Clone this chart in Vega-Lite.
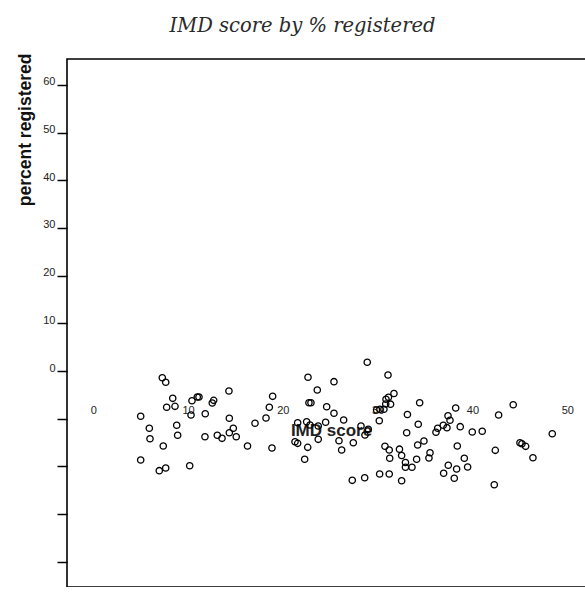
{
  "$schema": "https://vega.github.io/schema/vega-lite/v6.json",
  "width": 523,
  "height": 528,
  "autosize": {"type": "none"},
  "padding": {"left": 67, "top": 59, "right": 0, "bottom": 0},
  "background": "white",
  "title": {
    "text": "IMD score by % registered",
    "font": "DejaVu Serif",
    "fontStyle": "italic",
    "fontWeight": "normal",
    "fontSize": 19.5,
    "color": "#2a2a2a",
    "anchor": "middle",
    "dx": -26,
    "baseline": "alphabetic",
    "offset": 2
  },
  "config": {
    "view": {"stroke": "black", "strokeWidth": 1.6},
    "axis": {"grid": false, "domain": false, "labelFont": "Liberation Sans", "titleFont": "Liberation Sans"}
  },
  "data": {
    "values": [
      {"imd": 7.28, "pct": -1.41}, {"imd": 7.64, "pct": -2.37}, {"imd": 8.38, "pct": -5.73}, {"imd": 7.74, "pct": -7.61},
      {"imd": 8.62, "pct": -7.41}, {"imd": 10.41, "pct": -6.23}, {"imd": 10.97, "pct": -5.45}, {"imd": 11.15, "pct": -5.45},
      {"imd": 10.31, "pct": -9.23}, {"imd": 11.81, "pct": -8.96}, {"imd": 12.70, "pct": -6.15}, {"imd": 12.55, "pct": -6.71},
      {"imd": 14.31, "pct": -4.20}, {"imd": 5.00, "pct": -9.50}, {"imd": 5.91, "pct": -12.02}, {"imd": 5.98, "pct": -14.20},
      {"imd": 7.38, "pct": -15.73}, {"imd": 8.80, "pct": -11.39}, {"imd": 8.90, "pct": -13.49}, {"imd": 5.00, "pct": -18.67},
      {"imd": 6.96, "pct": -20.91}, {"imd": 7.64, "pct": -20.35}, {"imd": 10.17, "pct": -19.87}, {"imd": 11.78, "pct": -13.78},
      {"imd": 13.08, "pct": -13.49}, {"imd": 13.58, "pct": -14.12}, {"imd": 14.35, "pct": -9.92}, {"imd": 14.35, "pct": -12.94},
      {"imd": 14.77, "pct": -12.02}, {"imd": 15.08, "pct": -13.78}, {"imd": 16.27, "pct": -15.73}, {"imd": 17.06, "pct": -10.97},
      {"imd": 18.22, "pct": -9.86}, {"imd": 18.57, "pct": -7.61}, {"imd": 18.92, "pct": -5.31}, {"imd": 18.85, "pct": -16.15},
      {"imd": 22.65, "pct": -1.32}, {"imd": 25.39, "pct": -2.24}, {"imd": 23.63, "pct": -3.99}, {"imd": 28.90, "pct": 1.83},
      {"imd": 31.09, "pct": -0.84}, {"imd": 22.75, "pct": -6.65}, {"imd": 22.96, "pct": -6.65}, {"imd": 24.62, "pct": -7.49},
      {"imd": 25.39, "pct": -8.87}, {"imd": 26.41, "pct": -10.28}, {"imd": 21.56, "pct": -10.85}, {"imd": 22.51, "pct": -10.64},
      {"imd": 22.86, "pct": -11.33}, {"imd": 23.73, "pct": -11.54}, {"imd": 24.51, "pct": -10.76}, {"imd": 28.24, "pct": -11.54},
      {"imd": 29.01, "pct": -12.23}, {"imd": 28.66, "pct": -13.43}, {"imd": 30.17, "pct": -10.43}, {"imd": 21.28, "pct": -14.83},
      {"imd": 21.56, "pct": -15.17}, {"imd": 22.62, "pct": -16.01}, {"imd": 23.73, "pct": -14.33}, {"imd": 25.92, "pct": -14.62},
      {"imd": 26.20, "pct": -16.57}, {"imd": 27.43, "pct": -15.04}, {"imd": 22.30, "pct": -18.52}, {"imd": 30.77, "pct": -15.78},
      {"imd": 31.22, "pct": -16.57}, {"imd": 32.30, "pct": -16.40}, {"imd": 32.53, "pct": -17.73}, {"imd": 31.27, "pct": -18.31},
      {"imd": 32.93, "pct": -19.19}, {"imd": 32.93, "pct": -20.20}, {"imd": 27.32, "pct": -22.93}, {"imd": 28.63, "pct": -22.38},
      {"imd": 30.21, "pct": -21.61}, {"imd": 31.22, "pct": -21.61}, {"imd": 32.53, "pct": -23.01}, {"imd": 31.72, "pct": -4.72},
      {"imd": 31.14, "pct": -5.52}, {"imd": 30.88, "pct": -5.92}, {"imd": 30.85, "pct": -6.92}, {"imd": 31.36, "pct": -6.96},
      {"imd": 30.24, "pct": -8.03}, {"imd": 29.89, "pct": -8.18}, {"imd": 30.66, "pct": -8.03}, {"imd": 33.14, "pct": -9.13},
      {"imd": 34.43, "pct": -6.65}, {"imd": 34.28, "pct": -11.18}, {"imd": 33.06, "pct": -12.94}, {"imd": 38.23, "pct": -7.76},
      {"imd": 37.42, "pct": -9.38}, {"imd": 37.63, "pct": -10.34}, {"imd": 36.92, "pct": -11.39}, {"imd": 37.31, "pct": -11.89},
      {"imd": 36.33, "pct": -12.02}, {"imd": 36.15, "pct": -12.86}, {"imd": 38.71, "pct": -11.68}, {"imd": 39.98, "pct": -12.80},
      {"imd": 41.03, "pct": -12.65}, {"imd": 42.76, "pct": -9.23}, {"imd": 44.30, "pct": -7.07}, {"imd": 48.42, "pct": -13.15},
      {"imd": 34.88, "pct": -14.68}, {"imd": 34.22, "pct": -15.52}, {"imd": 33.62, "pct": -20.20}, {"imd": 34.11, "pct": -18.52},
      {"imd": 35.52, "pct": -17.14}, {"imd": 35.41, "pct": -18.25}, {"imd": 38.40, "pct": -15.73}, {"imd": 39.14, "pct": -18.31},
      {"imd": 39.49, "pct": -20.14}, {"imd": 37.45, "pct": -19.78}, {"imd": 36.96, "pct": -21.46}, {"imd": 38.33, "pct": -20.56},
      {"imd": 38.08, "pct": -22.51}, {"imd": 42.41, "pct": -16.64}, {"imd": 45.01, "pct": -15.04}, {"imd": 45.22, "pct": -15.25},
      {"imd": 45.61, "pct": -15.80}, {"imd": 46.38, "pct": -18.19}, {"imd": 42.30, "pct": -23.85}
    ]
  },
  "mark": {"type": "point", "shape": "circle", "filled": false, "stroke": "black", "strokeWidth": 1.3, "size": 40, "opacity": 1},
  "encoding": {
    "x": {
      "field": "imd",
      "type": "quantitative",
      "scale": {"domain": [-2.774, 52.4], "nice": false, "zero": false},
      "axis": {
        "values": [0, 10, 20, 30, 40, 50],
        "tickSize": 10,
        "tickWidth": 1.5,
        "tickColor": "black",
        "labelPadding": -187,
        "labelBaseline": "middle",
        "labelFontSize": 11,
        "labelColor": "#222",
        "labelFlush": false,
        "labelOverlap": false,
        "title": "IMD score",
        "titleFontSize": 17,
        "titleFontWeight": "bold",
        "titleColor": "#222",
        "titleX": 264,
        "titleY": -157,
        "titleBaseline": "middle",
        "titleAlign": "center"
      }
    },
    "y": {
      "field": "pct",
      "type": "quantitative",
      "scale": {"domain": [-45.31, 65.45], "nice": false, "zero": false},
      "axis": {
        "values": [-40, -30, -20, -10, 0, 10, 20, 30, 40, 50, 60],
        "labelExpr": "datum.value >= 0 ? datum.label : ''",
        "tickSize": 10,
        "tickWidth": 1.5,
        "tickColor": "black",
        "labelPadding": 2,
        "labelBaseline": "alphabetic",
        "labelFontSize": 11,
        "labelColor": "#222",
        "labelFlush": false,
        "labelOverlap": false,
        "title": "percent registered",
        "titleFontSize": 17.5,
        "titleFontWeight": "bold",
        "titleColor": "#111",
        "titleAnchor": "end",
        "titleAlign": "right",
        "titleY": -6,
        "titlePadding": 8
      }
    }
  }
}
